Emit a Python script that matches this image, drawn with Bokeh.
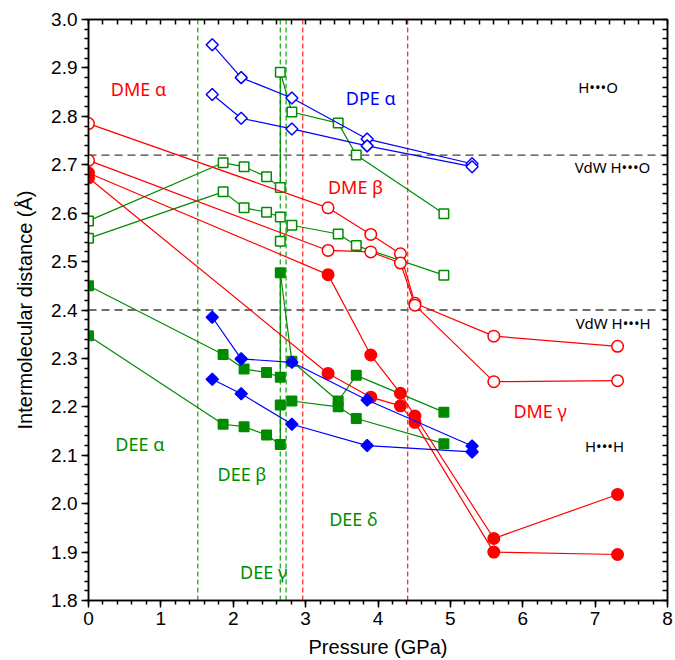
from bokeh.plotting import figure
from bokeh.models import (Span, LinearAxis, Range1d, SingleIntervalTicker, FixedTicker,
                          PrintfTickFormatter, Label)
from bokeh.embed import file_html
from bokeh.resources import INLINE
import math

# ---------------- data ----------------
# DPE (blue diamonds)
dpe_p = [1.71, 2.11, 2.81, 3.85, 5.30]
dpe_ho_1 = [2.948, 2.880, 2.838, 2.753, 2.702]
dpe_ho_2 = [2.845, 2.796, 2.774, 2.739, 2.696]
dpe_hh_1 = [2.385, 2.299, 2.292, 2.214, 2.119]
dpe_hh_2 = [2.257, 2.227, 2.164, 2.120, 2.107]

# DME (red circles)
dme_p = [0.0, 3.31, 3.90, 4.31, 4.51, 5.60, 7.31]
dme_ho_1 = [2.785, 2.611, 2.556, 2.516, 2.414, 2.346, 2.325]
dme_ho_2 = [2.709, 2.523, 2.520, 2.497, 2.410, 2.252, 2.254]
dme_hh_1 = [2.683, 2.473, 2.307, 2.228, 2.181, 1.928, 2.019]
dme_hh_2 = [2.673, 2.269, 2.220, 2.202, 2.168, 1.900, 1.895]

# DEE (green squares)
dee_p = [0.0, 1.86, 2.15, 2.46, 2.65, 2.65, 2.81, 3.45, 3.70, 4.91]
dee_ho_1 = [2.584, 2.704, 2.696, 2.675, 2.653, 2.891, 2.809, 2.786, 2.720, 2.599]
dee_ho_2 = [2.548, 2.644, 2.611, 2.602, 2.592, 2.542, 2.575, 2.557, 2.533, 2.472]
dee_hh_1 = [2.450, 2.308, 2.278, 2.271, 2.261, 2.477, 2.294, 2.212, 2.265, 2.189]
dee_hh_2 = [2.347, 2.164, 2.159, 2.142, 2.122, 2.204, 2.212, 2.200, 2.176, 2.124]

# reference lines
vdw_levels = [2.72, 2.40]
dee_transitions = [1.51, 2.65, 2.73]
dme_transitions = [2.96, 4.41]

# region labels: (text, x, y, colour)
region_labels = [
    ("DME α", 0.69, 2.857, "#FF0000"),
    ("DPE α", 3.90, 2.838, "#0000FF"),
    ("DME β", 3.69, 2.655, "#FF0000"),
    ("DME γ", 6.24, 2.192, "#FF0000"),
    ("DEE α", 0.71, 2.124, "#008C00"),
    ("DEE β", 2.12, 2.062, "#008C00"),
    ("DEE γ", 2.42, 1.859, "#008C00"),
    ("DEE δ", 3.66, 1.968, "#008C00"),
]
small_labels = [
    ("H•••O", 7.04, 2.860),
    ("VdW H•••O", 7.24, 2.696),
    ("VdW H•••H", 7.25, 2.373),
    ("H•••H", 7.13, 2.120),
]

RED = "#FF0000"
GREEN = "#008C00"
BLUE = "#0000FF"

p = figure(width=675, height=660, x_range=Range1d(0, 8), y_range=Range1d(1.8, 3.0),
           output_backend="svg", toolbar_location=None,
           min_border_left=88, min_border_right=8, min_border_top=19, min_border_bottom=60)
p.grid.visible = False
p.outline_line_color = "black"
p.outline_line_width = 1.5
p.background_fill_color = "white"

xt = SingleIntervalTicker(interval=1, num_minor_ticks=5)
yt = SingleIntervalTicker(interval=0.1, num_minor_ticks=5)
p.xaxis.ticker = xt
p.yaxis.ticker = yt
p.yaxis.formatter = PrintfTickFormatter(format="%.1f")

for ax in (p.xaxis[0], p.yaxis[0]):
    ax.axis_line_width = 1.5
    ax.major_tick_line_width = 1.5
    ax.minor_tick_line_width = 1.5
    ax.major_tick_out = 7
    ax.major_tick_in = 0
    ax.minor_tick_out = 4
    ax.minor_tick_in = 0
    ax.major_label_text_font = "Liberation Sans"
    ax.major_label_text_font_size = "19px"
    ax.major_label_text_color = "black"
    ax.axis_label_text_font = "Liberation Sans"
    ax.axis_label_text_font_style = "normal"
    ax.axis_label_text_font_size = "20px"
    ax.axis_label_text_color = "black"

p.xaxis.axis_label = "Pressure (GPa)"
p.yaxis.axis_label = "Intermolecular distance (Å)"
p.xaxis.major_label_standoff = 4
p.xaxis.axis_label_standoff = 8
p.yaxis.major_label_standoff = 4
p.yaxis.axis_label_standoff = 12

# mirrored tick marks (no labels) on top and right
top_ticks = [i / 5 for i in range(0, 41)]
right_ticks = [1.8 + i / 50 for i in range(0, 61)]
for side, ticks in (("above", top_ticks), ("right", right_ticks)):
    ax = LinearAxis(ticker=FixedTicker(ticks=[], minor_ticks=ticks),
                    major_tick_in=0, major_tick_out=0, minor_tick_in=5, minor_tick_out=0,
                    major_label_standoff=0,
                    axis_line_width=1.5, minor_tick_line_width=1.5)
    p.add_layout(ax, side)

# reference lines
for lv in vdw_levels:
    p.add_layout(Span(location=lv, dimension="width", line_color="#404040",
                      line_dash="8 5", line_width=1.3, level="underlay"))
for tv in dee_transitions:
    p.add_layout(Span(location=tv, dimension="height", line_color="#22AA22",
                      line_dash="5 3", line_width=1.3, level="underlay"))
for tv in dme_transitions:
    p.add_layout(Span(location=tv, dimension="height", line_color="#FF3030",
                      line_dash="5 3", line_width=1.3, level="underlay"))

LW = 1.2

# DEE (green squares)
for ys, fill in ((dee_ho_1, "white"), (dee_ho_2, "white"), (dee_hh_1, GREEN), (dee_hh_2, GREEN)):
    p.line(dee_p, ys, line_color=GREEN, line_width=LW)
    p.scatter(dee_p, ys, marker="square", size=9.5, line_color=GREEN, fill_color=fill, line_width=1.5)

# DME (red circles)
for ys, fill in ((dme_ho_1, "white"), (dme_ho_2, "white"), (dme_hh_1, RED), (dme_hh_2, RED)):
    p.line(dme_p, ys, line_color=RED, line_width=LW)
    p.scatter(dme_p, ys, marker="circle", size=11.5, line_color=RED, fill_color=fill, line_width=1.5)

# DPE (blue diamonds)
for ys, fill in ((dpe_ho_1, "white"), (dpe_ho_2, "white"), (dpe_hh_1, BLUE), (dpe_hh_2, BLUE)):
    p.line(dpe_p, ys, line_color=BLUE, line_width=LW)
    p.scatter(dpe_p, ys, marker="square", angle=math.pi / 4, size=8.5, line_color=BLUE,
              fill_color=fill, line_width=1.5)

for txt, x, y, col in region_labels:
    p.add_layout(Label(x=x, y=y, text=txt, text_color=col, text_font="Noto Sans",
                       text_font_size="18px", text_align="center", text_baseline="middle"))
for txt, x, y in small_labels:
    p.add_layout(Label(x=x, y=y, text=txt, text_color="black", text_font="Noto Sans",
                       text_font_size="15px", text_align="center", text_baseline="middle"))

open("out.html", "w").write(file_html(p, INLINE))
